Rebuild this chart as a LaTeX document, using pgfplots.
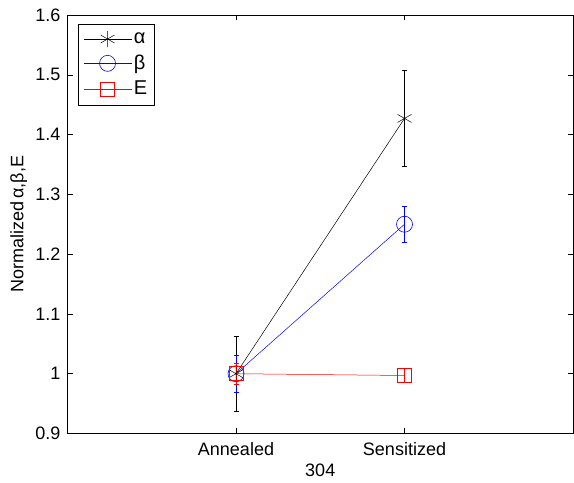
\documentclass[border=0pt]{standalone}
\usepackage{fontspec}
\setmainfont{Liberation Sans}
\usepackage{pgfplots}
\pgfplotsset{compat=1.18}
\usetikzlibrary{calc}

\begin{document}
\fontsize{18}{21}\selectfont
\begin{tikzpicture}
\begin{axis}[
    name=ax,
    scale only axis,
    width=505.5pt,
    height=418.5pt,
    xmin=0, xmax=3,
    ymin=0.9, ymax=1.6,
    xtick={1,2},
    xticklabels={Annealed,Sensitized},
    ytick={0.9,1,1.1,1.2,1.3,1.4,1.5,1.6},
    yticklabel style={/pgf/number format/fixed,/pgf/number format/precision=1},
    /pgf/number format/assume math mode=true,
    tick align=inside,
    major tick length=5pt,
    tick style={black, line width=0.5pt},
    axis line style={line width=0.6pt},
    ticklabel style={font=\fontsize{18}{21}\selectfont},
    xticklabel style={yshift=-3pt},
    yticklabel style={xshift=-1pt},
    xlabel={304},
    ylabel={Normalized\,α,β,E},
    label style={font=\fontsize{18}{21}\selectfont},
    xlabel style={yshift=4pt},
    ylabel style={yshift=-4pt},
    legend style={
        at={(0.0208,0.9785)}, anchor=north west,
        draw=black, line width=0.6pt,
        font=\fontsize{20}{22}\selectfont,
        row sep=5pt, inner xsep=5pt, inner ysep=6pt,
        cells={anchor=west},
    },
    legend image code/.code={%
        \draw[mark repeat=2,mark phase=2,#1]
            plot coordinates {(0pt,0pt) (24pt,0pt) (48pt,0pt)};},
]
\addplot[black, line width=0.5pt, mark=asterisk, mark size=8pt,
    mark options={line width=0.5pt},
    error bars/.cd, y dir=both, y explicit,
    error bar style={black, line width=0.6pt},
    error mark options={rotate=90, mark size=2.5pt, black, line width=0.6pt}]
    coordinates {(1,1.000) +- (0,0.063) (2,1.427) +- (0,0.080)};
\addlegendentry{α}
\addplot[blue, line width=0.5pt, mark=o, mark size=8pt,
    mark options={line width=0.6pt},
    error bars/.cd, y dir=both, y explicit,
    error bar style={blue, line width=0.6pt},
    error mark options={rotate=90, mark size=2.5pt, blue, line width=0.6pt}]
    coordinates {(1,1.000) +- (0,0.031) (2,1.250) +- (0,0.030)};
\addlegendentry{β}
\addplot[red, line width=0.5pt, mark=square, mark size=7pt,
    mark options={line width=0.6pt},
    error bars/.cd, y dir=both, y explicit,
    error bar style={red, line width=0.6pt},
    error mark options={rotate=90, mark size=2.5pt, red, line width=0.6pt}]
    coordinates {(1,1.000) +- (0,0.017) (2,0.997) +- (0,0.012)};
\addlegendentry{E}
\end{axis}
\pgfresetboundingbox
\path ($(ax.south west)+(-67.5pt,-49.5pt)$) rectangle ($(ax.north east)+(1pt,15pt)$);
\end{tikzpicture}
\end{document}
